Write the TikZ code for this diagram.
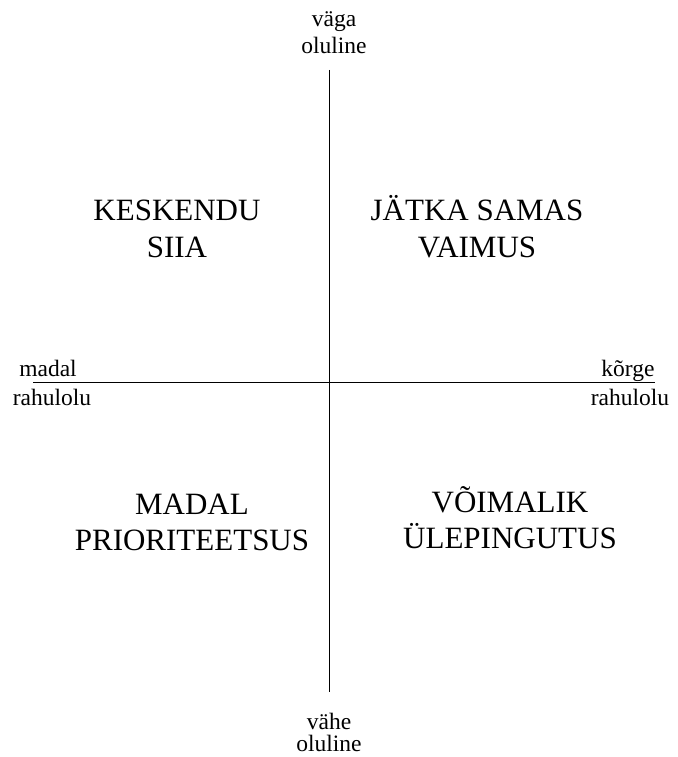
\documentclass[tikz,border=0pt]{standalone}
\usepackage{fontspec}
\setmainfont{Liberation Serif}
\begin{document}
\begin{tikzpicture}[x=1pt,y=-1pt,
  small/.style={font=\fontsize{23.5}{27}\selectfont,inner sep=0pt,anchor=base},
  big/.style={font=\fontsize{31}{37}\selectfont,inner sep=0pt,anchor=base},
  axis/.style={line width=1pt}]
\useasboundingbox (0,0) rectangle (677,757);
\coordinate (top) at (329,70);
\coordinate (bot) at (329,692);
\coordinate (left) at (33,382);
\coordinate (right) at (655,382);
\draw[axis] (top) -- (bot);
\draw[axis] (left) -- (right);
\node[small] (t1) at (334,27) {väga};
\node[small] (t2) at (334,54) {oluline};
\node[small] (l1) at (48,376) {madal};
\node[small] (l2) at (52,405) {rahulolu};
\node[small] (r1) at (628,376) {kõrge};
\node[small] (r2) at (630,405) {rahulolu};
\node[small] (b1) at (329,729) {vähe};
\node[small] (b2) at (329,751) {oluline};
\node[big] (q1a) at (177,220) {KESKENDU};
\node[big] (q1b) at (177,257) {SIIA};
\node[big] (q2a) at (477,220) {JÄTKA SAMAS};
\node[big] (q2b) at (477,257) {VAIMUS};
\node[big] (q3a) at (192,514) {MADAL};
\node[big] (q3b) at (192,550) {PRIORITEETSUS};
\node[big] (q4a) at (510,512) {VÕIMALIK};
\node[big] (q4b) at (510,548) {ÜLEPINGUTUS};
\end{tikzpicture}
\end{document}
